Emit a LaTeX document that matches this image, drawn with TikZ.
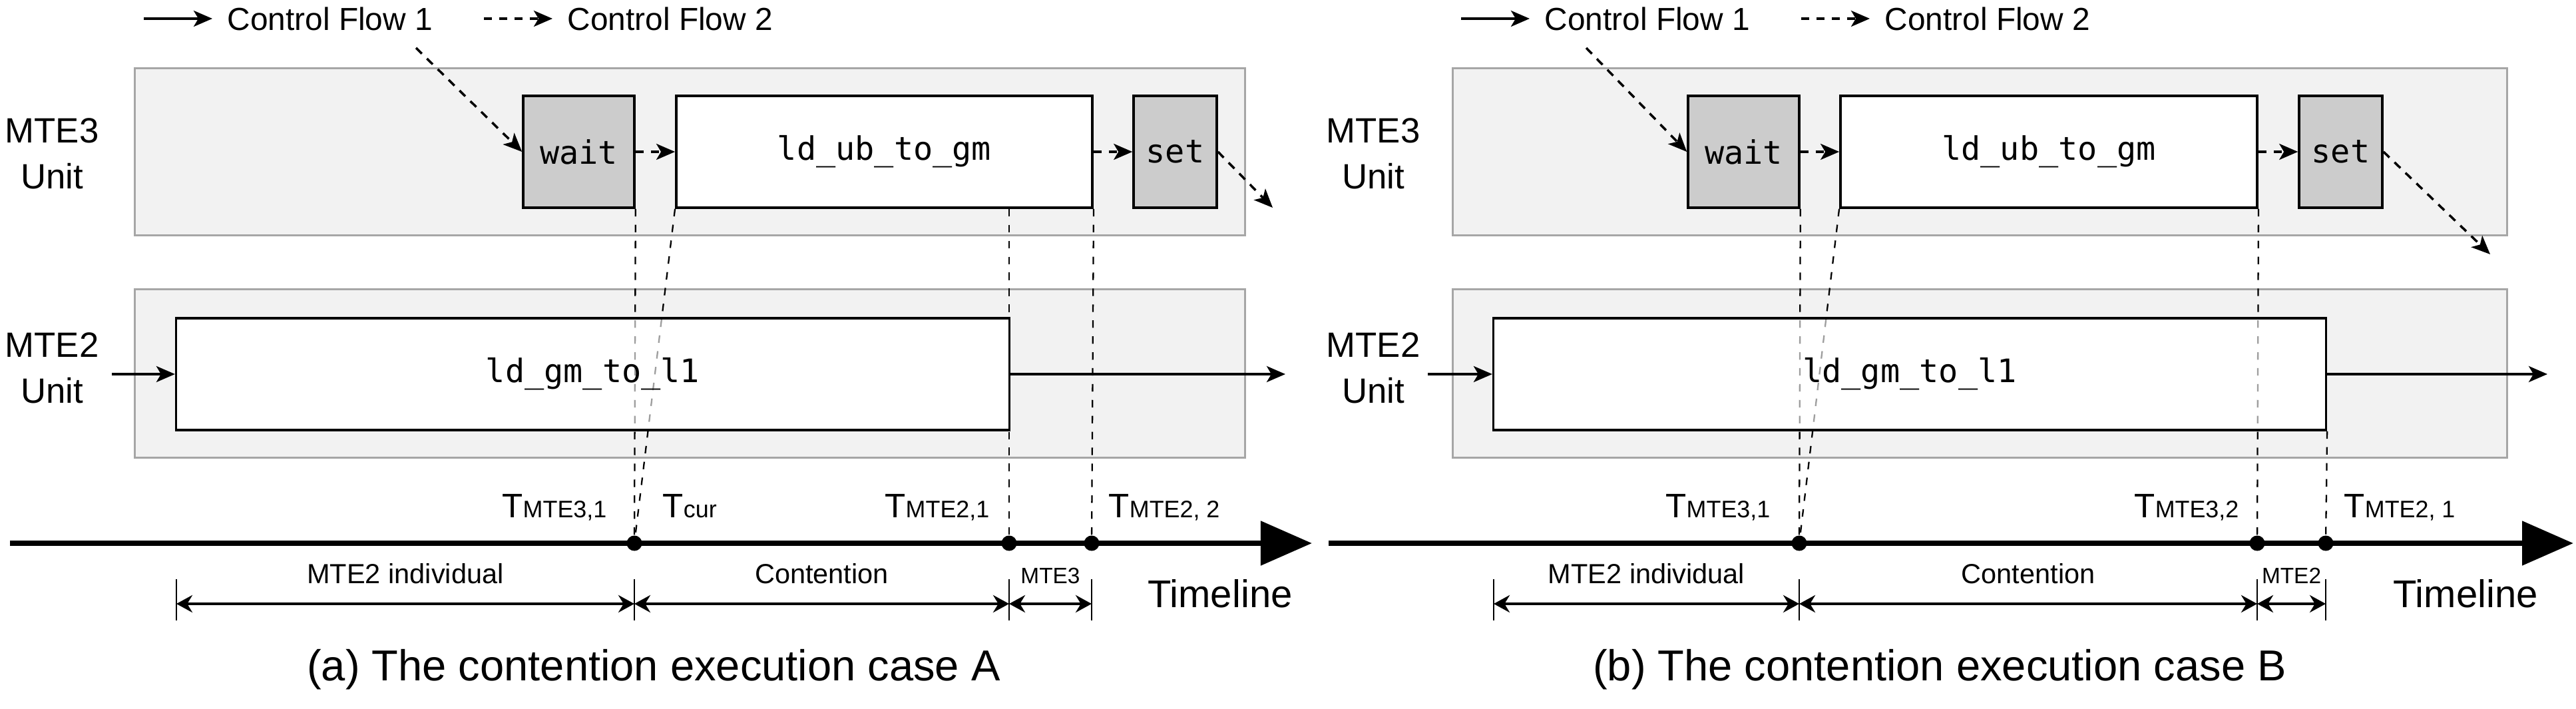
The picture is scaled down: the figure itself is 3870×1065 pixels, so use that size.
\documentclass[tikz,border=0pt]{standalone}
\usepackage{fontspec}
\setmainfont{Liberation Sans}
\setmonofont{DejaVu Sans Mono}
\usetikzlibrary{arrows.meta}

\newcommand{\tpoint}[1]{T{\fontsize{10.2}{12}\selectfont #1}}

\tikzset{
  unitbg/.style={draw=black!35, fill=black!5, line width=0.85pt, inner sep=0},
  unitlab/.style={align=center, font=\fontsize{15}{19.5}\selectfont},
  opbox/.style={draw=black, fill=white, line width=1pt, inner sep=0, minimum height=1.68cm,
    font=\fontsize{13.8}{16}\selectfont\ttfamily},
  syncbox/.style={opbox, fill=black!20, minimum width=1.67cm},
  legend/.style={inner xsep=0.22cm, inner ysep=0, font=\fontsize{13.6}{16}\selectfont},
  flowA/.style={line width=1pt, -{Stealth[length=0.28cm,width=0.24cm,inset=0.07cm]}},
  flowB/.style={flowA, dash pattern=on 3.5pt off 3pt},
  guide/.style={line width=0.65pt, dash pattern=on 3.2pt off 3.6pt},
  timeline/.style={line width=2.5pt, -{Triangle[length=0.77cm,width=0.65cm]}},
  tlab/.style={inner sep=0, font=\fontsize{14.5}{17}\selectfont},
  spantick/.style={line width=0.45pt},
  span/.style={line width=1.1pt, {Stealth[length=0.24cm,width=0.26cm]}-{Stealth[length=0.24cm,width=0.26cm]}},
  spanlab/.style={midway, anchor=base, yshift=0.3cm, font=\fontsize{11.8}{14}\selectfont},
  bigtext/.style={anchor=base, font=\fontsize{16.5}{20}\selectfont}
}

\begin{document}
\begin{tikzpicture}[x=0.01cm, y=-0.01cm]
  \path[use as bounding box, fill=white] (0,0) rectangle (3870,1065);

  % Unit backgrounds
  \node[unitbg, minimum width=16.67cm, minimum height=2.5cm] (mte3A) at (1036.5,228) {};
  \node[unitbg, minimum width=16.67cm, minimum height=2.52cm] (mte2A) at (1036.5,561) {};
  \node[unitbg, minimum width=15.83cm, minimum height=2.5cm] (mte3B) at (2974.5,228) {};
  \node[unitbg, minimum width=15.83cm, minimum height=2.52cm] (mte2B) at (2974.5,561) {};

  % Unit names and legend
  \foreach \p/\x/\dx in {A/78/0, B/2063/1979} {
    \node[unitlab] (n3\p) at (\x,231) {MTE3\\Unit};
    \node[unitlab] (n2\p) at (\x,553) {MTE2\\Unit};
    \coordinate (lg1\p) at (216+\dx,28);
    \node[legend, anchor=west] (lt1\p) at (319+\dx,28) {Control Flow 1};
    \coordinate (lg2\p) at (727+\dx,28);
    \node[legend, anchor=west] (lt2\p) at (830+\dx,28) {Control Flow 2};
    \draw[flowA] (lg1\p) -- (lt1\p);
    \draw[flowB] (lg2\p) -- (lt2\p);
  }

  % MTE3 operations
  \node[syncbox] (waitA) at (869.5,228) {wait};
  \node[opbox, minimum width=6.25cm] (ubA) at (1328.5,228) {ld\_ub\_to\_gm};
  \node[syncbox, minimum width=1.25cm] (setA) at (1765.5,228) {set};
  \node[syncbox] (waitB) at (2619.5,228) {wait};
  \node[opbox, minimum width=6.26cm] (ubB) at (3078,228) {ld\_ub\_to\_gm};
  \node[syncbox, minimum width=1.25cm] (setB) at (3516.5,228) {set};

  % White ground of the MTE2 operations
  \node[opbox, draw=none, minimum width=12.51cm] (gmAback) at (890.5,562) {};
  \node[opbox, draw=none, minimum width=12.5cm] (gmBback) at (2869,562) {};

  % Time points
  \foreach \n/\x in {A1/953, A2/1516, A3/1640, B1/2703, B2/3391, B3/3494}
    \coordinate (d\n) at (\x,816);

  % Guide lines down to the timeline
  \draw[guide] (waitA.south east) -- (dA1);
  \draw[guide] (ubA.south west) -- (dA1);
  \draw[guide] (ubA.south -| dA2) -- (dA2);
  \draw[guide] (ubA.south east) -- (dA3);
  \draw[guide] (waitB.south east) -- (dB1);
  \draw[guide] (ubB.south west) -- (dB1);
  \draw[guide] (ubB.south east) -- (dB2);

  % MTE2 operations
  \node[opbox, minimum width=12.51cm, fill opacity=0.62, text opacity=1] (gmA) at (890.5,562) {ld\_gm\_to\_l1};
  \node[opbox, minimum width=12.5cm, fill opacity=0.62, text opacity=1] (gmB) at (2869,562) {ld\_gm\_to\_l1};
  \draw[guide] (gmB.south east) -- (dB3);

  % Control flow 1
  \coordinate (inA) at (168,562);
  \coordinate (outA) at (1931,562);
  \coordinate (inB) at (2145,562);
  \coordinate (outB) at (3827,562);
  \draw[flowA] (inA) -- (gmA);
  \draw[flowA] (gmA) -- (outA);
  \draw[flowA] (inB) -- (gmB);
  \draw[flowA] (gmB) -- (outB);

  % Control flow 2
  \coordinate (cinA) at (625,72);
  \coordinate (coutA) at (1912,312);
  \coordinate (cinB) at (2383,72);
  \coordinate (coutB) at (3741,382);
  \draw[flowB] (cinA) -- (waitA.west);
  \draw[flowB] (waitA) -- (ubA);
  \draw[flowB] (ubA) -- (setA);
  \draw[flowB] (setA.east) -- (coutA);
  \draw[flowB] (cinB) -- (waitB.west);
  \draw[flowB] (waitB) -- (ubB);
  \draw[flowB] (ubB) -- (setB);
  \draw[flowB] (setB.east) -- (coutB);

  % Timelines
  \coordinate (tlA0) at (15,816);
  \coordinate (tlA1) at (1971,816);
  \coordinate (tlB0) at (1996,816);
  \coordinate (tlB1) at (3866,816);
  \draw[timeline] (tlA0) -- (tlA1);
  \draw[timeline] (tlB0) -- (tlB1);
  \foreach \n in {A1,A2,A3,B1,B2,B3}
    \fill (d\n) circle (0.115cm);

  % Time point labels
  \node[tlab, anchor=base east] (tA1) at ([xshift=-0.41cm,yshift=0.38cm]dA1) {\tpoint{MTE3,1}};
  \node[tlab, anchor=base west] (tcA) at ([xshift=0.42cm,yshift=0.38cm]dA1) {\tpoint{cur}};
  \node[tlab, anchor=base east] (tA2) at ([xshift=-0.29cm,yshift=0.38cm]dA2) {\tpoint{MTE2,1}};
  \node[tlab, anchor=base west] (tA3) at ([xshift=0.25cm,yshift=0.38cm]dA3) {\tpoint{MTE2, 2}};
  \node[tlab, anchor=base east] (tB1) at ([xshift=-0.43cm,yshift=0.38cm]dB1) {\tpoint{MTE3,1}};
  \node[tlab, anchor=base east] (tB2) at ([xshift=-0.27cm,yshift=0.38cm]dB2) {\tpoint{MTE3,2}};
  \node[tlab, anchor=base west] (tB3) at ([xshift=0.27cm,yshift=0.38cm]dB3) {\tpoint{MTE2, 1}};

  % Spans
  \foreach \n/\x in {A0/265, A1/953, A2/1516, A3/1640, B0/2244, B1/2703, B2/3391, B3/3494} {
    \coordinate (s\n) at (\x,907);
    \draw[spantick] ([yshift=0.37cm]s\n) -- ([yshift=-0.25cm]s\n);
  }
  \draw[span] (sA0) -- (sA1) node[spanlab] {MTE2 individual};
  \draw[span] (sA1) -- (sA2) node[spanlab] {Contention};
  \draw[span] (sA2) -- (sA3) node[spanlab, font=\fontsize{9.5}{11}\selectfont] {MTE3};
  \draw[span] (sB0) -- (sB1) node[spanlab] {MTE2 individual};
  \draw[span] (sB1) -- (sB2) node[spanlab] {Contention};
  \draw[span] (sB2) -- (sB3) node[spanlab, font=\fontsize{9.5}{11}\selectfont] {MTE2};

  % Timeline names and captions
  \node[bigtext] (tnA) at (1833,913) {Timeline};
  \node[bigtext] (tnB) at (3704,913) {Timeline};
  \node[bigtext, font=\fontsize{18.5}{22}\selectfont] (capA) at (982,1023) {(a) The contention execution case A};
  \node[bigtext, font=\fontsize{18.5}{22}\selectfont] (capB) at (2914,1023) {(b) The contention execution case B};
\end{tikzpicture}
\end{document}
